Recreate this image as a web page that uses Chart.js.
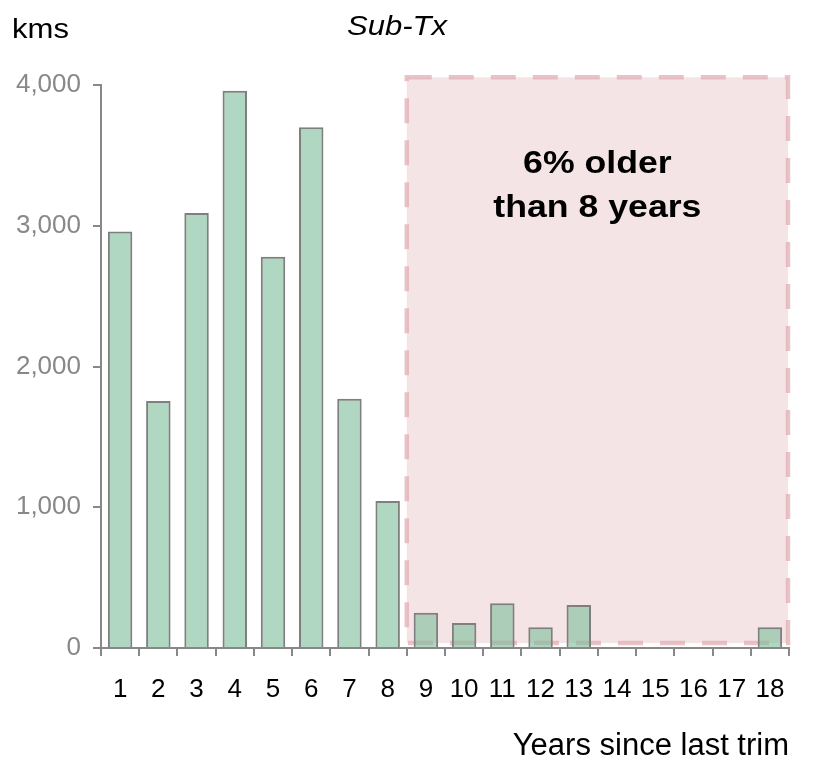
<!DOCTYPE html>
<html>
<head>
<meta charset="utf-8">
<script src="https://cdn.jsdelivr.net/npm/chart.js@4.4.0/dist/chart.umd.min.js"></script>
<style>
  html, body { margin: 0; padding: 0; background: #fff; }
  #wrap { width: 818px; height: 758px; position: relative; }
</style>
</head>
<body>
<div id="wrap"><canvas id="c" width="818" height="758"></canvas></div>
<script>
const categories = ['1','2','3','4','5','6','7','8','9','10','11','12','13','14','15','16','17','18'];
const kmsValues = [2960, 1755, 3090, 3960, 2780, 3700, 1770, 1045, 250, 178, 318, 148, 305, 0, 0, 0, 0, 148];
const yTicks = [0, 1000, 2000, 3000, 4000];
const chartTitle = 'Sub-Tx';
const yUnit = 'kms';
const xTitle = 'Years since last trim';
const calloutLines = ['6% older', 'than 8 years'];
const highlightFrom = 8; // categories index from which the highlight starts (year 9)

const FONT = '"Liberation Sans", Arial, sans-serif';

function stretchedText(ctx, text, x, y, sx) {
  ctx.save();
  ctx.translate(x, y);
  ctx.scale(sx, 1);
  ctx.fillText(text, 0, 0);
  ctx.restore();
}

const overlayPlugin = {
  id: 'overlay',
  beforeDatasetsDraw(chart) {
    const ctx = chart.ctx;
    const xs = chart.scales.x, ys = chart.scales.y;
    const left = (xs.getPixelForValue(highlightFrom - 1) + xs.getPixelForValue(highlightFrom)) / 2;
    const right = xs.right - 1;
    const top = ys.getPixelForValue(4055);
    const bottom = ys.getPixelForValue(35);
    ctx.save();
    ctx.fillStyle = 'rgba(225, 170, 175, 0.32)';
    ctx.fillRect(left, top, right - left, bottom - top);
    ctx.strokeStyle = 'rgba(225, 175, 180, 0.75)';
    ctx.lineWidth = 4.5;
    ctx.setLineDash([25, 17]);
    ctx.strokeRect(left, top, right - left, bottom - top);
    ctx.setLineDash([]);
    ctx.fillStyle = '#000';
    ctx.font = 'bold 31px ' + FONT;
    ctx.textAlign = 'center';
    ctx.textBaseline = 'middle';
    const cx = (left + right) / 2;
    stretchedText(ctx, calloutLines[0], cx, 164, 1.15);
    stretchedText(ctx, calloutLines[1], cx, 208, 1.15);
    ctx.restore();
  },
  afterDraw(chart) {
    const ctx = chart.ctx;
    ctx.save();
    ctx.fillStyle = '#000';
    ctx.textBaseline = 'middle';
    ctx.textAlign = 'left';
    ctx.font = '27px ' + FONT;
    stretchedText(ctx, yUnit, 12, 31, 1.15);
    ctx.textAlign = 'center';
    ctx.font = 'italic 27px ' + FONT;
    stretchedText(ctx, chartTitle, 397, 27, 1.15);
    ctx.restore();
  }
};

new Chart(document.getElementById('c'), {
  type: 'bar',
  data: {
    labels: categories,
    datasets: [{
      data: kmsValues,
      backgroundColor: 'rgba(123, 188, 153, 0.6)',
      borderColor: '#7f7f7f',
      borderWidth: 2,
      categoryPercentage: 1,
      barPercentage: 0.64
    }]
  },
  options: {
    responsive: false,
    animation: false,
    devicePixelRatio: 1,
    layout: { padding: { left: 0, top: 85, right: 29, bottom: 0 } },
    plugins: { legend: { display: false }, title: { display: false }, tooltip: { enabled: false } },
    scales: {
      x: {
        grid: { display: true, drawOnChartArea: false, drawTicks: true, tickLength: 8, color: '#888', lineWidth: 2, offset: true },
        border: { display: true, color: '#888', width: 2 },
        ticks: { color: '#000', font: { family: FONT, size: 26 }, padding: 18, maxRotation: 0, autoSkip: false },
        title: { display: true, text: xTitle, align: 'end', color: '#000', font: { family: FONT, size: 31 }, padding: { top: 0, bottom: -7 } },
        afterFit(s) { s.height = 110; }
      },
      y: {
        min: 0, max: 4000,
        afterBuildTicks(s) { s.ticks = yTicks.map(v => ({ value: v })); },
        grid: { display: true, drawOnChartArea: false, drawTicks: true, tickLength: 8, color: '#888', lineWidth: 2 },
        border: { display: true, color: '#888', width: 2 },
        ticks: { color: '#888', font: { family: FONT, size: 26 }, padding: 12, callback: v => v.toLocaleString('en-US') },
        afterFit(s) { s.width = 101; }
      }
    }
  },
  plugins: [overlayPlugin]
});
</script>
</body>
</html>
